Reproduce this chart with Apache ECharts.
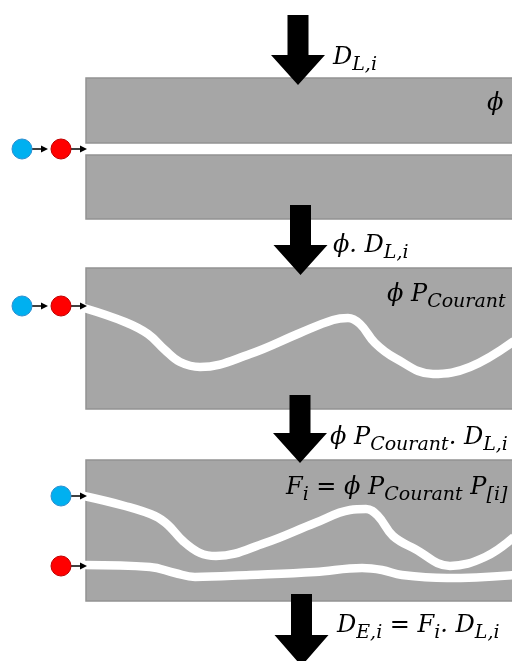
<!DOCTYPE html>
<html>
<head>
<meta charset="utf-8">
<script src="https://cdn.jsdelivr.net/npm/echarts@6/dist/echarts.min.js"></script>
<style>
html,body{margin:0;padding:0;background:#fff;}
#c{width:512px;height:661px;}
</style>
</head>
<body>
<div id="c"></div>
<script>
// Diagram coordinates (x: 0..512, y: 0..661 downward)
var panels = [            // [x0, y0, x1, y1]
  [86, 78, 520, 143],
  [86, 155, 520, 219],
  [86, 268, 520, 409],
  [86, 460, 520, 601]
];
var arrowX     = [298, 300.5, 300, 301.5];
var arrowTop   = [15, 205, 395, 594];
var arrowHead  = [55, 245, 433, 635];
var arrowTip   = [85, 275, 463, 666];

var curve2 = [[84,308],[125,322],[148,334],[165,350],[180,362],[200,367],[250,354],[300,333],[333,320],[348,318],[360,324],[375,343],[395,358],[433,374],[470,367],[514,341]];
var curve3Blue = [[84,496],[125,506],[155,516],[168,525],[183,541],[200,553],[216,556],[265,543],[315,523],[350,510],[366,509],[378,516],[393,536],[415,549],[450,566],[485,557],[514,537]];
var curve3Red = [[84,565],[150,567],[175,573],[195,577],[250,575],[315,572],[362,568],[382,570],[402,575],[447,578],[514,575]];

var blueDots = [[22,149],[22,306],[61,496]];
var redDots  = [[61,149],[61,306],[61,566]];
var smallArrows = [ // [x0, x1, y]
  [32,48,149],[71,87,149],[32,48,306],[71,87,306],[71,87,496],[71,87,566]
];

var labels = [ // [x, baselineY, text]
  [333, 65, '{m|D}{s|L,i}'],
  [487, 111, '{m|ϕ}'],
  [333, 253, '{m|ϕ. D}{s|L,i}'],
  [387, 302, '{m|ϕ P}{s|Courant}'],
  [330, 445, '{m|ϕ P}{s|Courant}{m|. D}{s|L,i}'],
  [286, 495, '{m|F}{s|i}{m| = ϕ P}{s|Courant}{m| P}{s|[i]}'],
  [337, 633, '{m|D}{s|E,i}{m| = F}{s|i}{m|. D}{s|L,i}']
];

var FONT = 'DejaVu Serif';
var chart = echarts.init(document.getElementById('c'), null, {renderer:'canvas'});

function idx(n){ var a=[]; for(var i=0;i<n;i++) a.push([i]); return a; }

chart.setOption({
  animation: false,
  backgroundColor: '#ffffff',
  grid: {left:0, right:0, top:0, bottom:0},
  xAxis: {type:'value', min:0, max:512, show:false},
  yAxis: {type:'value', min:0, max:661, inverse:true, show:false},
  series: [
    {
      type:'custom', z:1,
      data: panels,
      renderItem: function(params, api){
        var p0 = api.coord([api.value(0), api.value(1)]);
        var p1 = api.coord([api.value(2), api.value(3)]);
        return {type:'rect', shape:{x:p0[0], y:p0[1], width:p1[0]-p0[0], height:p1[1]-p0[1]},
          style:{fill:'#a6a6a6', stroke:'#939393', lineWidth:1.5}};
      }
    },
    {
      type:'line', z:3, data: curve2, smooth:0.4, symbol:'none',
      lineStyle:{color:'#ffffff', width:8.5, cap:'butt', join:'round'}
    },
    {
      type:'line', z:3, data: curve3Blue, smooth:0.4, symbol:'none',
      lineStyle:{color:'#ffffff', width:8.5, cap:'butt', join:'round'}
    },
    {
      type:'line', z:3, data: curve3Red, smooth:0.4, symbol:'none',
      lineStyle:{color:'#ffffff', width:8.5, cap:'butt', join:'round'}
    },
    {
      type:'custom', z:5,
      data: idx(arrowX.length),
      renderItem: function(params, api){
        var i = params.dataIndex;
        var cx = arrowX[i];
        var pts = [[cx-10.5,arrowTop[i]],[cx+10.5,arrowTop[i]],[cx+10.5,arrowHead[i]],[cx+27,arrowHead[i]],
                   [cx,arrowTip[i]],[cx-27,arrowHead[i]],[cx-10.5,arrowHead[i]]].map(function(p){return api.coord(p);});
        return {type:'polygon', shape:{points:pts}, style:{fill:'#000000'}};
      }
    },
    {
      type:'custom', z:5,
      data: smallArrows,
      renderItem: function(params, api){
        var a = api.coord([api.value(0), api.value(2)]);
        var b = api.coord([api.value(1), api.value(2)]);
        return {type:'group', children:[
          {type:'line', shape:{x1:a[0], y1:a[1], x2:b[0]-6, y2:b[1]}, style:{stroke:'#000', lineWidth:1.5}},
          {type:'polygon', shape:{points:[[b[0]-7,b[1]-3.5],[b[0],b[1]],[b[0]-7,b[1]+3.5]]}, style:{fill:'#000'}}
        ]};
      }
    },
    {
      type:'scatter', z:6, data: blueDots, symbol:'circle', symbolSize:20,
      itemStyle:{color:'#00b0f0', borderColor:'#2e8fd0', borderWidth:1, opacity:1}
    },
    {
      type:'scatter', z:6, data: redDots, symbol:'circle', symbolSize:20,
      itemStyle:{color:'#ff0000', borderColor:'#c00000', borderWidth:1, opacity:1}
    },
    {
      type:'custom', z:10,
      data: labels,
      renderItem: function(params, api){
        var i = params.dataIndex;
        var l = labels[i];
        var p = api.coord([l[0], l[1]]);
        return {type:'text', x:p[0], y:p[1]+10, style:{
          text: l[2], align:'left', verticalAlign:'bottom',
          rich:{
            m:{fontFamily:FONT, fontStyle:'italic', fontSize:24, lineHeight:34, color:'#000'},
            s:{fontFamily:FONT, fontStyle:'italic', fontSize:19, color:'#000', padding:[14,0,0,0]}
          }
        }};
      }
    }
  ]
});
</script>
</body>
</html>
